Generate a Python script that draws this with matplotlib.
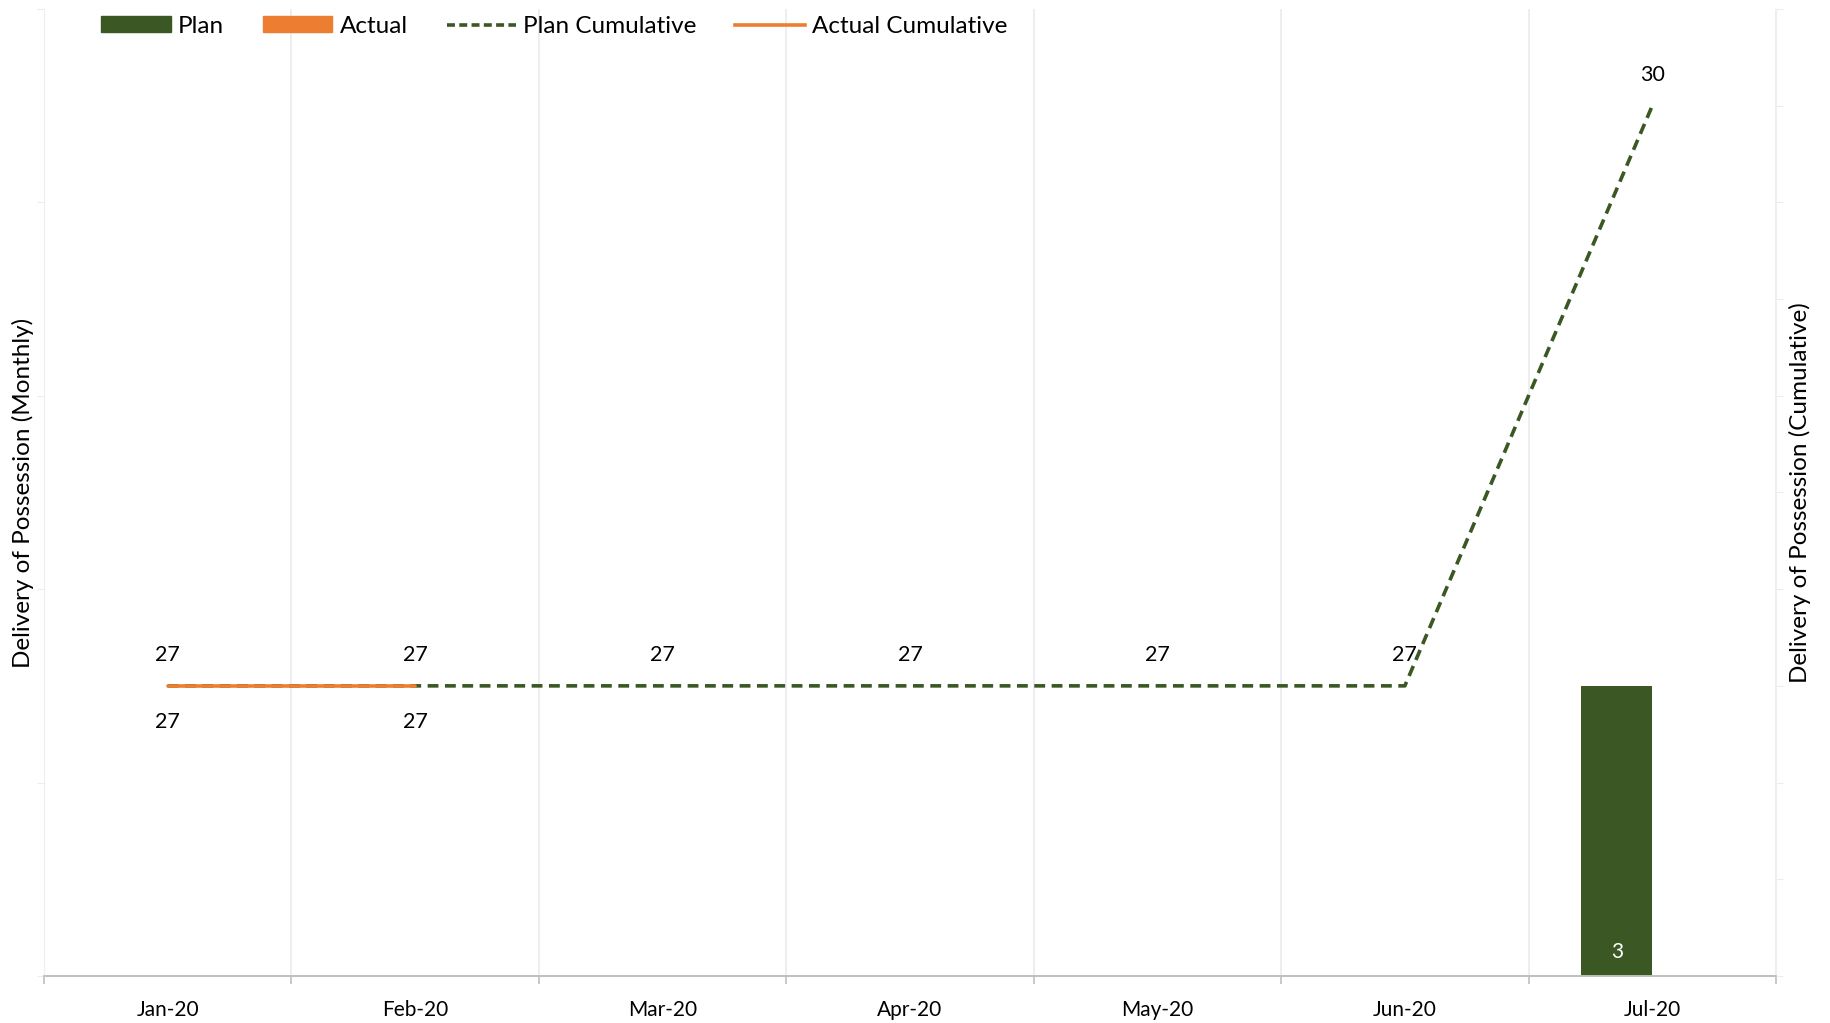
import numpy as np
import matplotlib
matplotlib.use("Agg")
import matplotlib.pyplot as plt
from matplotlib.patches import Patch
from matplotlib.lines import Line2D

plt.rcParams['font.family'] = ['Lato', 'DejaVu Sans']

# data
months = ['Jan-20', 'Feb-20', 'Mar-20', 'Apr-20', 'May-20', 'Jun-20', 'Jul-20']
plan_monthly = [np.nan, np.nan, np.nan, np.nan, np.nan, np.nan, 3]
actual_monthly = [np.nan] * 7
plan_cum = [27, 27, 27, 27, 27, 27, 30]
actual_cum = [27, 27]

green = '#3A5724'
orange = '#ED7D31'
grid_c = '#EBEBEB'

fig = plt.figure(figsize=(18.3, 10.23), dpi=100)
ax = fig.add_axes([0.024, 0.046, 0.9465, 0.9452])
ax2 = ax.twinx()

x = np.arange(len(months))
w = 0.287
# clustered bars: plan left, actual right
ax.bar(x - w / 2, plan_monthly, width=w, color=green, zorder=2)
ax.bar(x + w / 2, actual_monthly, width=w, color=orange, zorder=2)
for xi, v in zip(x, plan_monthly):
    if not np.isnan(v):
        ax.annotate(f'{v:g}', (xi - w / 2, 0), xytext=(0, 10), textcoords='offset points',
                    ha='center', va='bottom', color='white', fontsize=15)

ax.set_ylim(0, 10)
ax.set_yticks(np.arange(0, 11, 2))
ax.set_yticklabels([])
ax.set_xlim(-0.5, 6.5)
ax.set_xticks(x)
ax.set_xticklabels(months, fontsize=15)
ax.set_xticks(np.arange(-0.5, 7, 1), minor=True)
ax.tick_params(axis='x', which='major', length=0, pad=17)
ax.tick_params(axis='x', which='minor', length=6, color='#BFBFBF', width=1.2)
ax.tick_params(axis='y', length=5, color='#EDEDED')
ax.grid(axis='x', which='minor', color=grid_c, lw=1.2, zorder=0)
ax.set_axisbelow(True)

# cumulative lines on secondary axis
ax2.plot(x, plan_cum, color=green, lw=2.6, ls=(0, (3, 1.8)), zorder=3)
ax2.plot(x[:len(actual_cum)], actual_cum, color=orange, lw=2.6,
         solid_capstyle='round', zorder=4)
for xi, v in zip(x, plan_cum):
    ax2.annotate(f'{v}', (xi, v), xytext=(0, 15), textcoords='offset points',
                 ha='center', va='bottom', fontsize=15.5)
for xi, v in zip(x, actual_cum):
    ax2.annotate(f'{v}', (xi, v), xytext=(0, -19), textcoords='offset points',
                 ha='center', va='top', fontsize=15.5)
ax2.set_ylim(25.5, 30.5)
ax2.set_yticks(np.arange(25.5, 30.6, 0.5))
ax2.set_yticklabels([])
ax2.tick_params(axis='y', length=5, color='#EDEDED')

for a in (ax, ax2):
    a.spines['top'].set_visible(False)
    a.spines['left'].set_color('#EFEFEF')
    a.spines['right'].set_color('#EFEFEF')
    a.spines['bottom'].set_color('#BFBFBF')
    a.spines['bottom'].set_linewidth(1.2)

ax.set_ylabel('Delivery of Possession (Monthly)', fontsize=17.5)
ax2.set_ylabel('Delivery of Possession (Cumulative)', fontsize=17.5)
ax.yaxis.set_label_coords(-0.006, 0.5)
ax2.yaxis.set_label_coords(1.0072, 0.5)

handles = [Patch(color=green), Patch(color=orange),
           Line2D([], [], color=green, lw=2.6, ls=(0, (2.2, 1.2))),
           Line2D([], [], color=orange, lw=2.6)]
labels = ['Plan', 'Actual', 'Plan Cumulative', 'Actual Cumulative']
fig.legend(handles, labels, loc='upper left', bbox_to_anchor=(0.0435, 1.006), ncol=4,
           frameon=False, fontsize=17.5, handlelength=2.85, handleheight=0.6,
           columnspacing=1.6, handletextpad=0.3)

fig.savefig('out.png', dpi=100)
